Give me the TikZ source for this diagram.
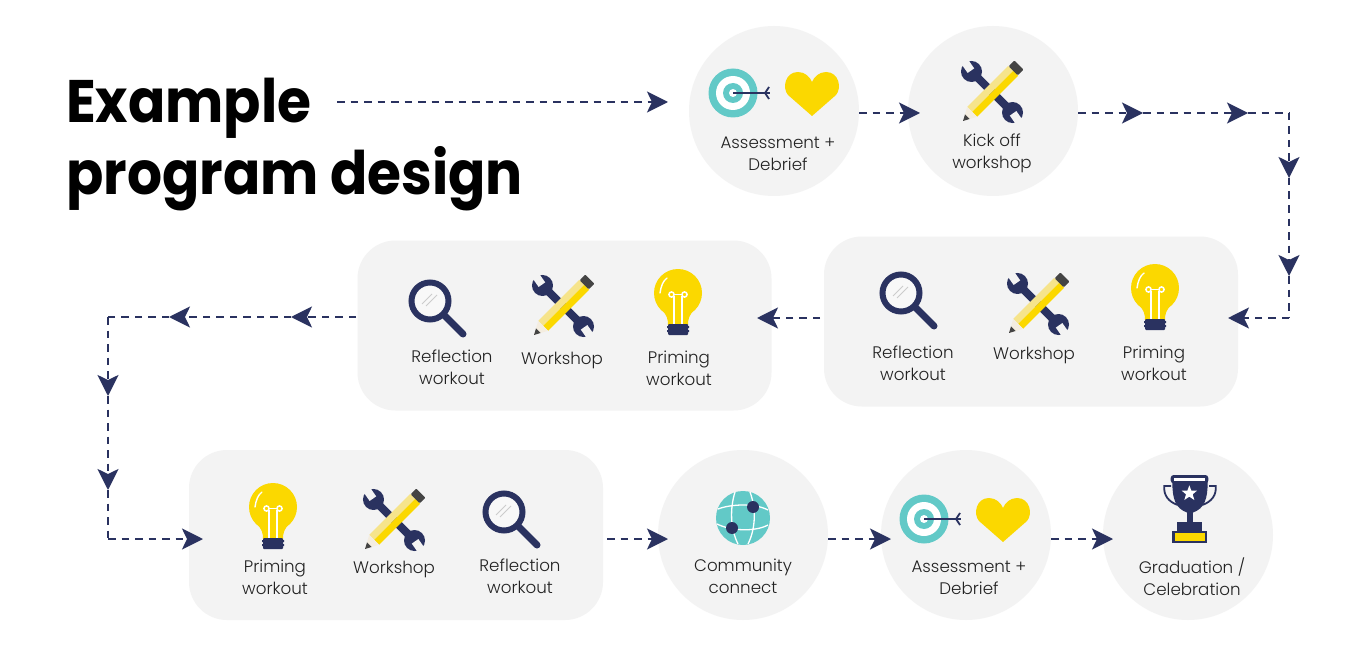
\documentclass[tikz,border=0pt]{standalone}
\usepackage{fontspec}
\setmainfont{Poppins Light}
\newfontfamily\titlefont[BoldFeatures={FakeStretch=0.917}]{Poppins}
\usetikzlibrary{arrows.meta,calc}
\definecolor{navy}{HTML}{2A3260}
\definecolor{panel}{HTML}{F3F3F3}
\definecolor{teal}{HTML}{62C9C7}
\definecolor{gold}{HTML}{FBD800}
\definecolor{palegold}{HTML}{F6E48B}
\definecolor{ink}{HTML}{222222}
\definecolor{lead}{HTML}{444444}
\definecolor{wood}{HTML}{F4EDE0}
\definecolor{glass}{HTML}{F8F8F8}
\definecolor{shine}{HTML}{CCCCCC}
\tikzset{
  disc/.style={circle,fill=panel,minimum size=170pt,inner sep=0pt},
  panelbox/.style={rectangle,fill=panel,rounded corners=38pt,minimum width=414pt,minimum height=170pt,inner sep=0pt},
  lab/.style={text=ink,font=\fontsize{16.7}{22}\selectfont,align=center,inner sep=0pt},
  title/.style={text=black,font=\titlefont\bfseries\fontsize{60}{72.5}\selectfont,align=left,inner sep=0pt},
  flowline/.style={navy,line width=2.1pt,dash pattern=on 7.5pt off 6pt},
  flow/.style={flowline,-{Stealth[length=21pt,width=21pt,inset=5pt]}},
  pics/target/.style={code={
    \fill[teal] (0,0) circle (24.5);
    \fill[white] (0,0) circle (17);
    \fill[teal] (0,0) circle (10);
    \fill[white] (0,0) circle (4);
    \draw[navy,line width=1.8pt] (0,0) -- (37,0);
    \draw[navy,line width=1.8pt] (36,-6) -- (32,0) -- (36,6);
  }},
  pics/heart/.style={code={
    \fill[gold] (0,22) -- (-24,1) .. controls (-30,-6) and (-27,-22) .. (-14,-22)
      .. controls (-7,-22) and (-2,-17) .. (0,-12)
      .. controls (2,-17) and (7,-22) .. (14,-22)
      .. controls (27,-22) and (30,-6) .. (24,1) -- cycle;
  }},
  pics/tools/.style={code={
    \begin{scope}[rotate=-45]
      \fill[navy] (-29,-4) rectangle (29,4);
      \fill[navy] (-29,0) circle (10.5);
      \fill[navy] (29,0) circle (10.5);
      \fill[panel,shift={(-29,0)},rotate=-10] (-14,-4) rectangle (-1,4);
      \fill[panel,shift={(29,0)},rotate=-10] (1,-4) rectangle (14,4);
    \end{scope}
    \begin{scope}[rotate=45]
      \fill[palegold] (-28,-7) rectangle (30,0);
      \fill[gold] (-28,0) rectangle (30,7);
      \fill[lead,rounded corners=1pt] (30,-6.5) rectangle (38,6.5);
      \fill[wood] (-28,-7) -- (-41,0) -- (-28,7) -- cycle;
      \fill[lead] (-35,-3.2) -- (-41,0) -- (-35,3.2) -- cycle;
    \end{scope}
  }},
  pics/bulb/.style={code={
    \fill[gold] (0,0) circle (24);
    \fill[gold] (-17,16) .. controls (-11,22) and (-10,26) .. (-10,32) -- (10,32) .. controls (10,26) and (11,22) .. (17,16) -- cycle;
    \draw[white,line width=1.4pt,line cap=round] (-18,0) .. controls (-17,-7) and (-15,-12) .. (-11,-15);
    \draw[white,line width=1.5pt] (-6.5,1.5) circle (2.6) (6.5,1.5) circle (2.6);
    \draw[white,line width=1.5pt] (-4.2,3) -- (-4.2,31) (4.2,3) -- (4.2,31) (-3.9,1.5) -- (3.9,1.5);
    \fill[navy,rounded corners=1pt] (-10,31) rectangle (10,42);
    \fill[navy] (-11,33) rectangle (11,35) (-11,37) rectangle (11,39);
  }},
  pics/lens/.style={code={
    \draw[navy,line width=7pt,line cap=round] (15,15) -- (33,33);
    \fill[glass] (0,0) circle (18);
    \draw[navy,line width=6pt] (0,0) circle (18.5);
    \draw[shine,line width=1pt] (-8,3) -- (2,-7) (-4,5) -- (7,-6);
  }},
  pics/globe/.style={code={
    \fill[teal] (0,0) circle (27);
    \draw[white,line width=1.3pt]
      (-8,-26) .. controls (-13,-10) and (-13,10) .. (-5,26)
      (7,-26) .. controls (13,-10) and (13,10) .. (5,26)
      (-25,-9) .. controls (-12,-14) and (12,-15) .. (25,-8)
      (-26,6) .. controls (-12,13) and (12,14) .. (25,7);
    \fill[navy] (10,-11) circle (6);
    \fill[navy] (-11,10) circle (6);
  }},
  pics/trophy/.style={code={
    \begin{scope}[scale=1/3]
      \draw[navy,line width=1.8pt] (48,48) -- (28,48) .. controls (25,75) and (40,95) .. (68,105);
      \draw[navy,line width=1.8pt] (162,48) -- (182,48) .. controls (185,75) and (170,95) .. (142,105);
      \fill[navy] (52,35) -- (158,35) .. controls (158,85) and (150,115) .. (113,128) -- (97,128) .. controls (60,115) and (52,85) .. (52,35) -- cycle;
      \fill[navy,rounded corners=3pt] (47,15) rectangle (160,40);
      \fill[white] (58,24) rectangle (150,32);
      \fill[white] (103,46) -- (109,62) -- (126,62) -- (113,73) -- (118,90) -- (103,80) -- (88,90) -- (93,73) -- (80,62) -- (97,62) -- cycle;
      \fill[navy] (97,120) rectangle (113,156);
      \fill[navy] (67,155) rectangle (142,183);
      \fill[navy] (52,182) rectangle (157,218);
      \fill[gold] (60,190) rectangle (150,212);
    \end{scope}
  }},
}
\begin{document}
\begin{tikzpicture}[x=1pt,y=-1pt]
\useasboundingbox (0,0) rectangle (1350,650);
\fill[white] (0,0) rectangle (1350,650);

% title
\node[title,anchor=north west] (head) at (66,77.5) {Example\\program design};

% backgrounds
\node[disc] (assess1) at (774,111) {};
\node[disc] (kick) at (993,111) {};
\node[panelbox] (rowb) at (1031,321.5) {};
\node[panelbox] (rowa) at (564.5,325.5) {};
\node[panelbox] (rowc) at (396,535) {};
\node[disc] (comm) at (743,535) {};
\node[disc] (assess2) at (966,535) {};
\node[disc] (grad) at (1188,535) {};

% icons
\pic at (733,93) {target};
\pic at (812,94) {heart};
\pic at (992,92) {tools};
\pic at (901,293) {lens};
\pic at (1038,304) {tools};
\pic at (1155,288) {bulb};
\pic at (430,301) {lens};
\pic at (563,306) {tools};
\pic at (678,293) {bulb};
\pic at (273,507) {bulb};
\pic at (394,520) {tools};
\pic at (504,512) {lens};
\pic at (743,518) {globe};
\pic at (924,519) {target};
\pic at (1003,520) {heart};
\pic at (1155,470) {trophy};

% labels
\node[lab] (l1) at (778,154) {Assessment +\\Debrief};
\node[lab] (l2) at (992,153.5) {Kick off\\workshop};
\node[lab] (l3) at (913,363.5) {Reflection\\workout};
\node[lab] (l4) at (1034,355) {Workshop};
\node[lab] (l5) at (1154,363.5) {Priming\\workout};
\node[lab] (l6) at (452,367.5) {Reflection\\workout};
\node[lab] (l7) at (562,360) {Workshop};
\node[lab] (l8) at (679,368.5) {Priming\\workout};
\node[lab] (l9) at (275,577.5) {Priming\\workout};
\node[lab] (l10) at (394,569) {Workshop};
\node[lab] (l11) at (520,576.5) {Reflection\\workout};
\node[lab] (l12) at (743,576.5) {Community\\connect};
\node[lab] (l13) at (969,578) {Assessment +\\Debrief};
\node[lab] (l14) at (1192,577) {Graduation /\\Celebration};

% connector waypoints
\coordinate (a0) at (337,102);
\coordinate (a1) at (668,102);
\coordinate (b1) at (920,113);
\coordinate (d0) at (1078,113);
\coordinate (d1) at (1143,113);
\coordinate (d2) at (1248,113);
\coordinate (d3) at (1289,113);
\coordinate (d4) at (1289,178);
\coordinate (d5) at (1289,276);
\coordinate (d6) at (1289,318);
\coordinate (d7) at (1228,318);
\coordinate (e0) at (820,318);
\coordinate (e1) at (757,318);
\coordinate (f0) at (356,317);
\coordinate (f1) at (291,317);
\coordinate (f2) at (169,317);
\coordinate (f3) at (108,317);
\coordinate (f4) at (108,396);
\coordinate (f5) at (108,490);
\coordinate (f6) at (108,539);
\coordinate (f7) at (203,539);
\coordinate (g0) at (607,539);
\coordinate (g1) at (668,539);
\coordinate (h1) at (891,539);
\coordinate (i1) at (1113,539);

% connectors
\draw[flow] (a0) -- (a1);
\draw[flow] (assess1.east |- b1) -- (b1);
\draw[flow] (d0) -- (d1);
\draw[flow] (d1) -- (d2);
\draw[flowline] (d2) -- (d3);
\draw[flow] (d3) -- (d4);
\draw[flow] (d4) -- (d5);
\draw[flowline] (d5) -- (d6);
\draw[flow] (d6) -- (d7);
\draw[flow] (e0) -- (e1);
\draw[flow] (f0) -- (f1);
\draw[flow] (f1) -- (f2);
\draw[flowline] (f2) -- (f3);
\draw[flow] (f3) -- (f4);
\draw[flow] (f4) -- (f5);
\draw[flowline] (f5) -- (f6);
\draw[flow] (f6) -- (f7);
\draw[flow] (g0) -- (g1);
\draw[flow] (comm.east |- h1) -- (h1);
\draw[flow] (assess2.east |- i1) -- (i1);
\end{tikzpicture}
\end{document}
